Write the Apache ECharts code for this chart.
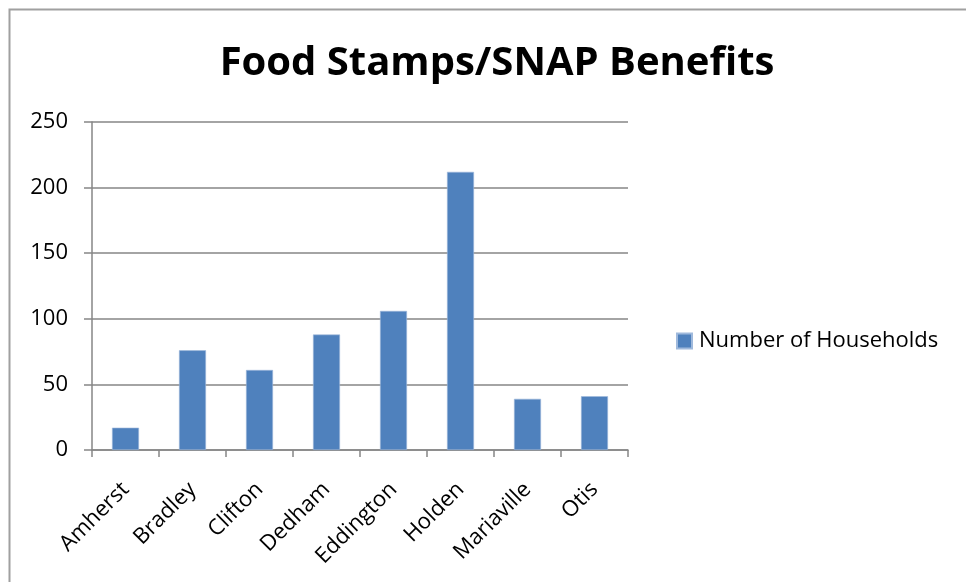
<!DOCTYPE html>
<html>
<head>
<meta charset="utf-8">
<script src="https://cdn.jsdelivr.net/npm/echarts@6/dist/echarts.min.js"></script>
<style>
  html, body { margin: 0; padding: 0; background: #fff; }
  #chart { width: 966px; height: 582px; }
</style>
</head>
<body>
<div id="chart"></div>
<script>
const towns = ['Amherst', 'Bradley', 'Clifton', 'Dedham', 'Eddington', 'Holden', 'Mariaville', 'Otis'];
const households = [17, 76, 61, 88, 106, 212, 39, 41];
const seriesName = 'Number of Households';
const chartTitle = 'Food Stamps/SNAP Benefits';

const FONT = '"Open Sans", "Noto Sans", sans-serif';
const GRAY = '#868686';
const BAR = '#4f81bd';

const chart = echarts.init(document.getElementById('chart'), null, { renderer: 'canvas' });
chart.setOption({
  animation: false,
  backgroundColor: '#fff',
  graphic: [{
    type: 'rect',
    shape: { x: 9.5, y: 9.5, width: 1000, height: 600 },
    style: { fill: 'none', stroke: '#a0a0a0', lineWidth: 2 },
    silent: true
  }],
  title: {
    text: chartTitle,
    left: 492,
    textAlign: 'center',
    top: 39,
    textStyle: { fontFamily: FONT, fontWeight: 'bold', fontSize: 40, color: '#000' }
  },
  legend: {
    left: 671,
    top: 325,
    itemWidth: 15,
    itemHeight: 15,
    itemGap: 10,
    icon: 'rect',
    textStyle: { fontFamily: FONT, fontSize: 22, color: '#000', padding: [0, 0, 0, 2] },
    data: [seriesName]
  },
  grid: { left: 92, right: 338, top: 122, bottom: 132, containLabel: false },
  xAxis: {
    type: 'category',
    data: towns,
    axisLine: { lineStyle: { color: GRAY, width: 1.5 } },
    axisTick: { show: true, length: 7, alignWithLabel: false, lineStyle: { color: GRAY, width: 1.5 } },
    axisLabel: { rotate: 45, margin: 36, interval: 0, fontFamily: FONT, fontSize: 22, color: '#000' }
  },
  yAxis: {
    type: 'value',
    min: 0,
    max: 250,
    interval: 50,
    axisLine: { show: true, lineStyle: { color: GRAY, width: 1.5 } },
    axisTick: { show: true, length: 8, lineStyle: { color: GRAY, width: 1.5 } },
    splitLine: { show: true, lineStyle: { color: GRAY, width: 1.5 } },
    axisLabel: { margin: 24, fontFamily: FONT, fontSize: 22, color: '#000' }
  },
  series: [{
    name: seriesName,
    type: 'bar',
    data: households,
    barWidth: 27,
    itemStyle: { color: BAR, borderColor: '#9fb9dc', borderWidth: 0.6 }
  }]
});
</script>
</body>
</html>
